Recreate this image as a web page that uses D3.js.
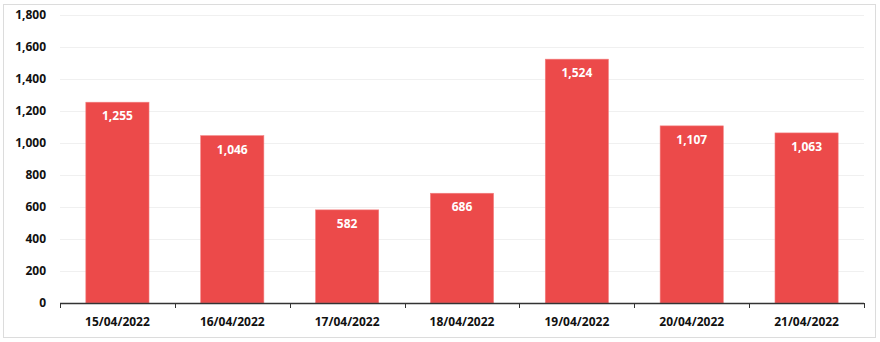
<!DOCTYPE html>
<html>
<head>
<meta charset="utf-8">
<script src="https://cdn.jsdelivr.net/npm/d3@7"></script>
<style>
  body { margin: 0; background: #fff; }
  text { font-family: "Open Sans", "Noto Sans", sans-serif; }
</style>
</head>
<body>
<div class="chart"></div>
<script>
var categories = ["15/04/2022", "16/04/2022", "17/04/2022", "18/04/2022", "19/04/2022", "20/04/2022", "21/04/2022"];
var values = [1255, 1046, 582, 686, 1524, 1107, 1063];
var yTicks = [0, 200, 400, 600, 800, 1000, 1200, 1400, 1600, 1800];

var svgWidth = 880;
var svgHeight = 342;
var margin = { top: 15, right: 16, bottom: 39, left: 60 };
var width = svgWidth - margin.left - margin.right;
var height = svgHeight - margin.top - margin.bottom;

var svg = d3.select(".chart")
  .append("svg")
  .attr("width", svgWidth)
  .attr("height", svgHeight);

// outer frame
svg.append("rect")
  .attr("x", 3.5).attr("y", 4.5)
  .attr("width", 872).attr("height", 333)
  .attr("fill", "none")
  .attr("stroke", "#dcdcdc");

var chartGroup = svg.append("g")
  .attr("transform", `translate(${margin.left}, ${margin.top})`);

var xScale = d3.scaleBand()
  .domain(categories)
  .range([0, width])
  .paddingInner(0.45)
  .paddingOuter(0.225);

var yScale = d3.scaleLinear()
  .domain([0, 1800])
  .range([height, 0]);

// gridlines
chartGroup.selectAll(".grid")
  .data(yTicks.slice(1))
  .enter()
  .append("line")
  .attr("x1", 0).attr("x2", width)
  .attr("y1", d => Math.round(yScale(d)) + 0.5)
  .attr("y2", d => Math.round(yScale(d)) + 0.5)
  .attr("stroke", "#f0f0f0");

// y labels
chartGroup.selectAll(".ylab")
  .data(yTicks)
  .enter()
  .append("text")
  .attr("x", -14)
  .attr("y", d => yScale(d))
  .attr("dy", "0.35em")
  .attr("text-anchor", "end")
  .attr("font-size", "12px")
  .attr("font-weight", "bold")
  .attr("fill", "#111")
  .text(d => d3.format(",")(d));

// bars
chartGroup.selectAll(".bar")
  .data(values)
  .enter()
  .append("rect")
  .attr("x", (d, i) => xScale(categories[i]))
  .attr("y", d => yScale(d))
  .attr("width", xScale.bandwidth())
  .attr("height", d => height - yScale(d))
  .attr("fill", "#ec4a4a")
  .attr("stroke", "#f38080")
  .attr("stroke-width", 0.6);

// value labels
chartGroup.selectAll(".vlab")
  .data(values)
  .enter()
  .append("text")
  .attr("x", (d, i) => xScale(categories[i]) + xScale.bandwidth() / 2)
  .attr("y", d => yScale(d) + 18)
  .attr("text-anchor", "middle")
  .attr("font-size", "12px")
  .attr("font-weight", "bold")
  .attr("fill", "#fff")
  .text(d => d3.format(",")(d));

// x axis line + ticks at band boundaries
var step = xScale.step();
var axisG = chartGroup.append("g")
  .attr("transform", `translate(0, ${height})`);
axisG.append("line")
  .attr("x1", 0).attr("x2", width)
  .attr("y1", 0.5).attr("y2", 0.5)
  .attr("stroke", "#333")
  .attr("stroke-width", 1.5);
axisG.selectAll(".tick")
  .data(d3.range(categories.length + 1))
  .enter()
  .append("line")
  .attr("x1", i => Math.round(i * width / categories.length) + 0.5)
  .attr("x2", i => Math.round(i * width / categories.length) + 0.5)
  .attr("y1", 0).attr("y2", 5)
  .attr("stroke", "#333");

axisG.selectAll(".xlab")
  .data(categories)
  .enter()
  .append("text")
  .attr("x", d => xScale(d) + xScale.bandwidth() / 2)
  .attr("y", 23)
  .attr("text-anchor", "middle")
  .attr("font-size", "12px")
  .attr("font-weight", "bold")
  .attr("fill", "#111")
  .text(d => d);
</script>
</body>
</html>
